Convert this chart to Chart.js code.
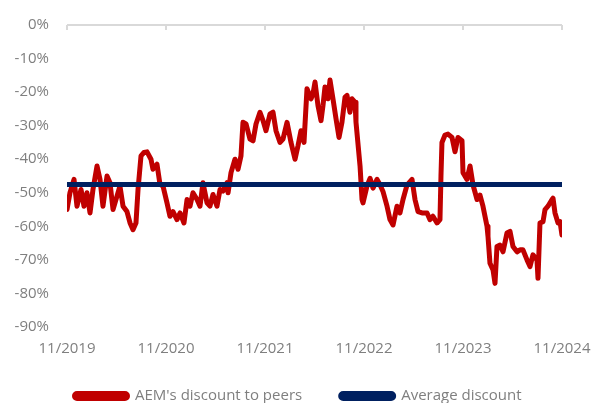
<!DOCTYPE html>
<html>
<head>
<meta charset="utf-8">
<script src="https://cdn.jsdelivr.net/npm/chart.js@4.4.0/dist/chart.umd.min.js"></script>
<style>
  body { margin: 0; background: #fff; }
  #wrap { width: 592px; height: 403px; }
</style>
</head>
<body>
<div id="wrap"><canvas id="chart" width="592" height="403"></canvas></div>
<script>
// months since 11/2019 and discount (%)
const months = [
  0, 0.36, 0.85, 1.21, 1.70, 2.06, 2.42, 2.79, 3.15, 3.64,
  4.00, 4.36, 4.85, 5.21, 5.58, 6.06, 6.42, 6.79, 7.27, 7.64,
  8.00, 8.36, 8.61, 8.97, 9.33, 9.70, 10.18, 10.42, 10.91, 11.27,
  11.64, 12.12, 12.48, 12.85, 13.33, 13.70, 14.18, 14.55, 14.91, 15.27,
  15.76, 16.12, 16.48, 16.97, 17.33, 17.70, 18.18, 18.55, 18.91, 19.39,
  19.52, 19.88, 20.36, 20.73, 21.09, 21.33, 21.70, 22.18, 22.55, 22.91,
  23.39, 23.76, 24.12, 24.61, 24.97, 25.33, 25.82, 26.18, 26.67, 27.15,
  27.64, 28.00, 28.36, 28.73, 29.09, 29.58, 29.82, 30.06, 30.42, 30.79,
  31.03, 31.27, 31.64, 31.88, 32.24, 32.61, 32.97, 33.33, 33.70, 33.94,
  34.30, 34.55, 34.91, 35.03, 35.52, 35.76, 35.88,
  36.36, 36.73, 37.09, 37.58, 37.94, 38.30, 38.79, 39.15, 39.52, 40.00,
  40.36, 40.73, 41.21, 41.82, 42.18, 42.55, 43.03, 43.64, 44.00, 44.36,
  44.85, 45.21, 45.33, 45.45, 45.82, 46.18, 46.67, 47.03, 47.39, 47.88,
  48.00, 48.48, 48.85, 49.21, 49.70, 50.06, 50.42, 50.91, 51.03, 51.27,
  51.64, 51.88, 52.12, 52.48, 52.85, 53.33, 53.70, 54.06, 54.55, 54.91,
  55.27, 55.76, 56.12, 56.48, 56.97, 57.09, 57.33, 57.70, 57.94, 58.30,
  58.79, 58.91, 59.15, 59.52, 59.76, 60.00
];
const discount = [
  -55, -50, -46, -54, -49, -54, -50, -56, -49, -42,
  -46, -54, -45, -47, -55, -51, -48, -54, -55.6, -59,
  -61, -59, -49, -39, -38, -37.8, -40, -43, -41.5, -47.5,
  -48, -53, -57, -55.6, -58, -56, -59, -52, -54, -50,
  -52, -54, -47, -53, -54, -50.5, -54, -49, -49.5, -47,
  -50, -44, -40, -43, -39, -29, -29.5, -34, -34.5, -29.5,
  -26, -28.5, -31.5, -26.5, -26, -31.5, -35, -34, -29, -35,
  -40, -36, -31.5, -35, -19, -22, -20.5, -17, -24, -28.5,
  -24, -18.5, -22, -16.4, -22, -28, -33.5, -29, -21.5, -21,
  -26, -22, -23, -29, -42, -52, -53,
  -48, -45.7, -48.6, -46, -47.6, -49.6, -54, -58, -59.6, -54,
  -56, -52, -47.7, -46, -52, -55.6, -56, -56, -58, -57,
  -59, -58, -45, -35, -32.8, -32.5, -33.5, -37.8, -33.5, -34.5,
  -44, -46, -42, -47.6, -52, -50.7, -54, -60, -63, -71,
  -73, -77, -66, -65.6, -67.6, -62, -61.5, -66, -67.6, -67,
  -67, -70, -72, -68.5, -70, -75.5, -59, -58.6, -55, -54,
  -52, -51.6, -56, -59, -58.6, -62.6
];
const average = -47.5;
const startYear = 2019;
const yTicks = [0, -10, -20, -30, -40, -50, -60, -70, -80, -90];

const seriesLabels = ["AEM's discount to peers", 'Average discount'];
const grey = '#7f7f7f';
const font = { family: "'Open Sans', sans-serif", size: 15 };

// largeur du libellé le plus large, pour caler les % à droite à x = 49
const meas = document.createElement('canvas').getContext('2d');
meas.font = "15px 'Open Sans', sans-serif";
const widest = Math.max(...yTicks.map(v => meas.measureText(v + '%').width));

// petits traits verticaux sous la ligne du 0 %
const topTicks = {
  id: 'topTicks',
  beforeDatasetsDraw(chart) {
    const { ctx, chartArea, scales } = chart;
    ctx.save();
    ctx.strokeStyle = '#d9d9d9';
    ctx.lineWidth = 2;
    scales.x.ticks.forEach(t => {
      const px = scales.x.getPixelForValue(t.value);
      ctx.beginPath();
      ctx.moveTo(px, chartArea.top);
      ctx.lineTo(px, chartArea.top + 5);
      ctx.stroke();
    });
    ctx.restore();
  }
};

new Chart(document.getElementById('chart'), {
  type: 'line',
  data: {
    datasets: [
      {
        label: seriesLabels[0],
        data: months.map((m, i) => ({ x: m, y: discount[i] })),
        borderColor: '#c00000',
        backgroundColor: '#c00000',
        borderWidth: 5,
        borderJoinStyle: 'round',
        borderCapStyle: 'round',
        pointRadius: 0,
        tension: 0,
        order: 1
      },
      {
        label: seriesLabels[1],
        data: [{ x: 0, y: average }, { x: 60, y: average }],
        borderColor: '#002060',
        backgroundColor: '#002060',
        borderWidth: 5,
        borderCapStyle: 'round',
        pointRadius: 0,
        order: 0
      }
    ]
  },
  options: {
    responsive: false,
    animation: false,
    layout: { padding: { left: 36, right: 30, top: 25, bottom: -10.5 } },
    scales: {
      x: {
        type: 'linear',
        min: 0,
        max: 60,
        afterFit: s => { s.height = 23; },
        border: { display: false },
        grid: { display: false, drawTicks: false },
        ticks: {
          stepSize: 12,
          autoSkip: false,
          maxRotation: 0,
          mirror: true,
          padding: -31,
          color: grey,
          font,
          callback: v => '11/' + (startYear + v / 12)
        }
      },
      y: {
        min: -90,
        max: 0,
        afterFit: s => { s.width = 31; },
        border: { display: false },
        grid: {
          drawTicks: false,
          lineWidth: 2,
          color: c => (c.tick && c.tick.value === 0 ? '#d9d9d9' : 'rgba(0,0,0,0)')
        },
        afterBuildTicks: s => { s.ticks = yTicks.map(v => ({ value: v })); },
        ticks: {
          mirror: true,
          crossAlign: 'far',
          padding: -18 - widest,
          color: grey,
          font,
          callback: v => v + '%'
        }
      }
    },
    plugins: {
      tooltip: { enabled: false },
      legend: {
        position: 'bottom',
        align: 'start',
        labels: {
          boxWidth: 53,
          boxHeight: 5,
          useBorderRadius: true,
          borderRadius: 2.5,
          padding: 38.5,
          color: grey,
          font,
          sort: (a, b) => a.datasetIndex - b.datasetIndex
        }
      }
    }
  },
  plugins: [topTicks]
});
</script>
</body>
</html>
